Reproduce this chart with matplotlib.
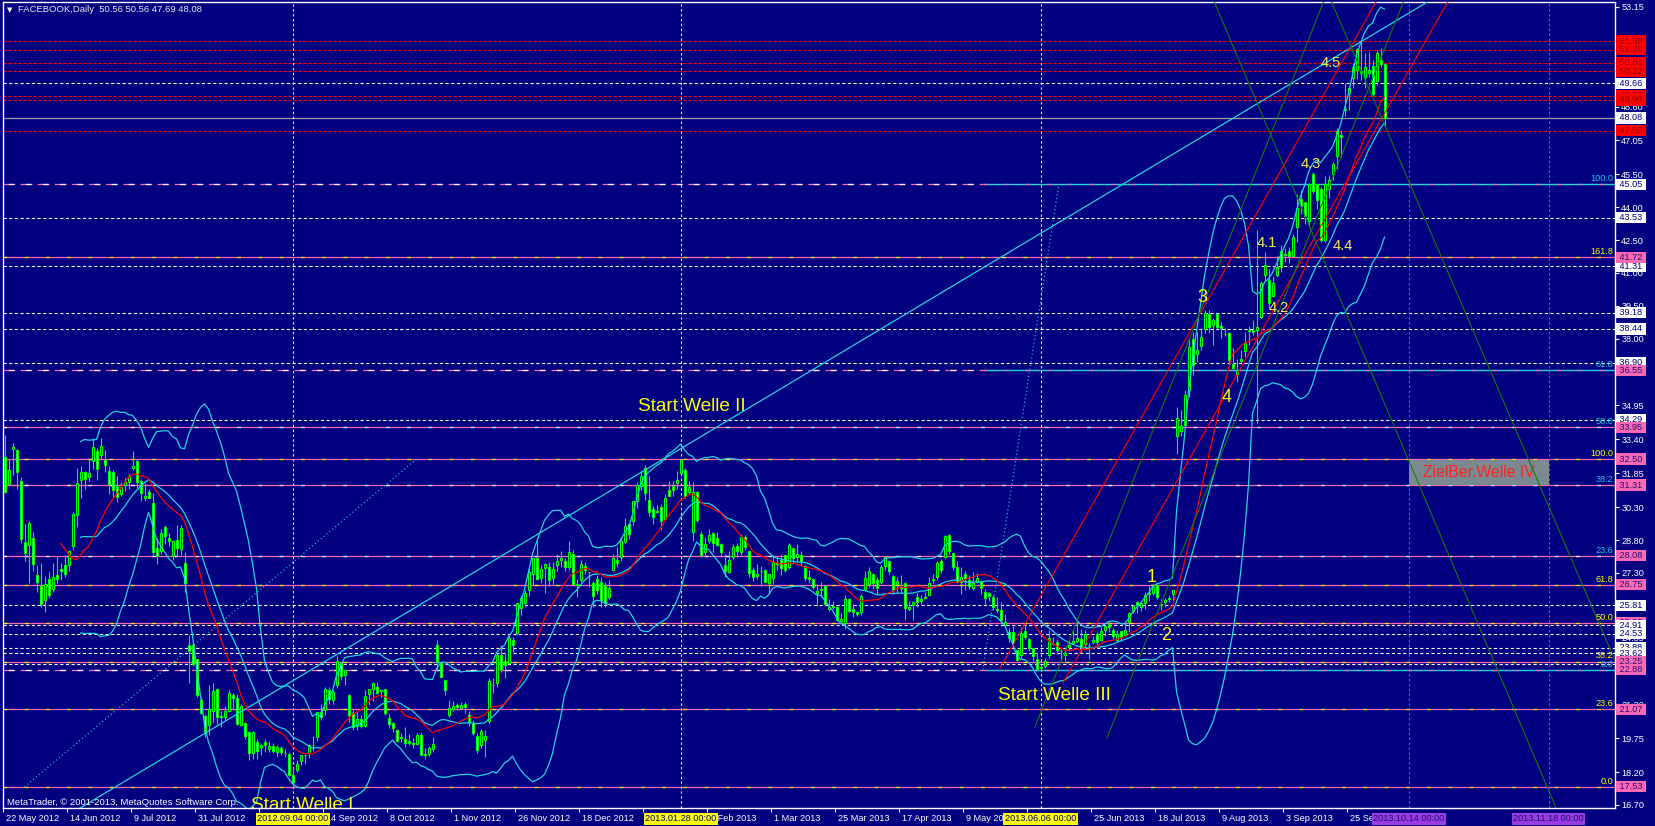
import numpy as np
import pandas as pd
import matplotlib
matplotlib.use("Agg")
import matplotlib.pyplot as plt
from matplotlib.transforms import ScaledTranslation
from matplotlib.patches import Rectangle

plt.rcParams['font.family'] = ['Liberation Sans', 'DejaVu Sans']

# ---------------- DATA (daily bars, 22 May 2012 .. 8 Oct 2013) ----------------
open_ = [
 32.61, 31.37, 32.95, 32.90, 31.48, 28.70, 28.55,
 28.89, 27.20, 26.70, 26.07, 27.00, 26.55, 27.18, 27.48, 27.66, 27.65, 28.51, 29.96, 31.54, 31.92, 31.67, 32.41, 32.86, 32.69, 32.46, 31.96, 31.92,
 31.25, 30.91, 31.32, 31.44, 32.10, 32.43, 31.48, 30.70, 31.00, 30.50, 28.42, 28.31, 29.41, 28.91, 28.07, 28.82, 28.38, 27.75, 23.99, 24.00, 23.37,
 21.50, 20.77, 20.36, 21.00, 22.00, 20.75, 20.70, 21.00, 21.73, 21.60, 20.36, 20.44, 20.01, 19.05, 19.58, 19.36, 19.59, 19.26, 19.39, 19.10, 19.30, 19.07, 19.02,
 18.08, 18.30, 18.72, 18.96, 19.07, 19.42, 19.82, 20.95, 21.05, 21.97, 21.51, 22.19, 23.20, 22.65, 21.70, 20.90, 20.30, 20.62, 20.32,
 21.76, 21.99, 22.08, 21.92, 21.98, 20.65, 20.46, 20.13, 19.82, 19.69, 19.64, 19.52, 19.47, 19.91, 19.04, 19.04, 19.25, 24.00, 23.19, 22.42, 20.82,
 21.08, 21.26, 21.11, 21.30, 20.82, 20.44, 19.84, 19.42, 19.66, 20.54, 22.18, 22.26, 23.53, 23.26, 23.20, 24.22, 24.54, 25.69, 25.94, 26.50, 27.26,
 28.00, 27.08, 27.51, 27.55, 27.07, 27.64, 27.90, 27.85, 27.59, 28.18, 26.77, 26.96, 27.60, 27.35, 26.85, 27.03, 26.89, 26.71, 26.20,
 27.44, 27.88, 28.01, 28.69, 29.51, 29.67, 30.60, 31.28, 32.08, 30.64, 30.21, 30.08, 30.31, 29.75, 31.10, 31.27, 31.41, 31.88, 32.00, 30.98, 29.15,
 31.01, 29.06, 28.26, 28.74, 29.11, 28.89, 28.61, 27.67, 27.36, 28.02, 28.52, 28.23, 28.92, 28.28, 27.43, 27.16, 27.38, 27.42, 26.84,
 27.05, 27.76, 27.88, 28.10, 27.57, 28.43, 28.01, 28.10, 27.62, 27.10, 27.03, 26.37, 26.53, 26.68, 25.66, 25.80, 25.75, 25.08, 25.00, 26.09,
 25.63, 25.50, 25.50, 26.50, 26.81, 27.26, 26.96, 26.87, 27.62, 27.85, 27.16, 26.81, 26.65, 26.82, 25.67, 25.81, 26.18, 26.02, 26.18, 26.28, 27.00, 27.13,
 27.85, 28.01, 29.01, 28.20, 27.55, 26.87, 27.26, 26.97, 26.60, 26.90, 26.88, 26.44, 26.37, 26.22, 25.59, 25.60, 24.93, 24.58, 24.60, 23.79, 23.53, 24.63,
 24.27, 23.88, 23.35, 22.99, 23.03, 23.53, 24.03, 24.16, 23.72, 23.56, 23.91, 24.09, 24.20, 24.28, 24.06, 23.95, 24.14, 24.51, 24.24, 24.68,
 24.97, 24.70, 24.22, 24.65, 24.47, 25.07, 25.58, 25.96, 25.74, 25.93, 26.39, 26.37, 26.75, 25.82, 25.99, 26.10, 26.32, 33.54, 33.77, 34.07, 35.65, 37.96,
 37.30, 37.66, 38.43, 39.11, 38.61, 39.13, 38.59, 38.20, 38.24, 36.83, 36.36, 36.97, 37.43, 38.35, 38.38, 38.37, 39.00, 40.90, 40.68, 39.96, 40.89, 42.02,
 41.84, 42.01, 41.79, 43.09, 44.36, 44.24, 43.39, 45.53, 45.04, 44.85, 42.50, 44.82, 45.51, 46.32, 47.28, 48.50, 49.23, 49.89, 50.29, 50.14,
 49.97, 50.13, 50.47, 49.77, 50.73, 50.56,
]
high_ = [
 33.59, 32.50, 33.21, 32.95, 31.69, 29.55, 29.67,
 29.15, 27.65, 27.76, 27.17, 27.35, 27.76, 28.07, 27.77, 28.10, 28.32, 30.10, 32.08, 32.18, 31.93, 32.50, 33.45, 33.02, 33.44, 32.90, 32.19, 31.99,
 31.73, 31.44, 31.63, 31.83, 32.88, 32.48, 31.57, 31.40, 31.11, 30.95, 28.88, 29.29, 29.50, 29.13, 28.80, 29.47, 29.49, 28.23, 24.48, 24.04, 23.37,
 21.58, 20.84, 22.16, 22.27, 22.00, 20.97, 21.20, 21.95, 21.82, 21.75, 21.30, 20.48, 20.08, 20.06, 19.69, 19.50, 19.73, 19.64, 19.55, 19.43, 19.40, 19.27, 19.10,
 18.39, 18.73, 19.00, 19.00, 19.45, 19.84, 20.93, 21.30, 22.10, 22.08, 21.95, 23.50, 23.22, 22.90, 21.75, 21.04, 20.96, 20.80, 21.95,
 22.00, 22.32, 22.33, 22.00, 22.00, 20.87, 20.50, 20.15, 19.98, 20.25, 19.93, 19.78, 19.99, 20.03, 19.30, 19.40, 19.80, 24.25, 23.29, 22.42, 21.50,
 21.44, 21.36, 21.41, 21.38, 20.97, 20.57, 20.00, 20.19, 20.13, 22.50, 22.50, 23.65, 24.02, 23.58, 24.46, 24.37, 25.97, 26.28, 26.53, 27.55, 28.00,
 28.88, 27.66, 27.75, 27.78, 27.80, 28.14, 28.31, 27.99, 28.75, 28.33, 27.00, 27.91, 27.80, 27.36, 26.94, 27.20, 27.09, 26.90, 26.99,
 28.18, 28.47, 28.93, 29.79, 29.60, 30.60, 31.45, 31.96, 32.21, 31.71, 30.35, 30.42, 30.44, 30.89, 31.50, 31.49, 31.93, 32.51, 32.07, 31.49, 31.47,
 31.02, 29.20, 28.96, 29.29, 29.15, 29.17, 28.68, 28.16, 28.32, 28.63, 28.65, 29.08, 29.05, 28.31, 27.59, 27.71, 27.60, 27.48, 27.30,
 28.12, 28.06, 28.18, 28.13, 28.68, 28.47, 28.64, 28.32, 27.65, 27.43, 27.06, 26.79, 26.90, 26.69, 26.11, 26.01, 25.80, 25.48, 26.28, 26.17,
 25.89, 25.57, 26.35, 27.39, 27.58, 27.27, 27.11, 27.65, 28.07, 27.88, 27.22, 27.11, 27.20, 26.82, 26.00, 26.00, 26.38, 26.27, 26.44, 27.10, 27.27, 27.85,
 27.92, 29.02, 29.07, 28.24, 27.85, 27.55, 27.40, 27.20, 27.33, 27.28, 26.96, 26.57, 26.42, 26.30, 26.20, 25.99, 25.40, 24.76, 24.89, 23.81, 24.84, 24.95,
 24.32, 23.89, 23.70, 23.09, 23.41, 24.69, 24.35, 24.26, 23.83, 23.89, 24.25, 24.69, 25.19, 24.74, 24.70, 24.11, 24.43, 24.60, 24.84, 24.98,
 25.06, 24.77, 24.71, 24.66, 25.04, 25.49, 25.83, 26.00, 25.93, 26.43, 26.75, 26.78, 26.77, 26.11, 26.13, 26.30, 26.53, 34.88, 34.73, 35.66, 37.96, 38.31,
 38.29, 38.49, 39.32, 39.29, 38.94, 39.19, 38.74, 38.50, 38.32, 37.55, 37.07, 37.49, 38.28, 38.58, 38.85, 42.97, 40.63, 41.94, 41.20, 40.85, 41.78, 42.26,
 42.16, 42.17, 42.76, 44.61, 44.79, 44.26, 45.09, 45.62, 45.08, 44.94, 45.44, 45.47, 46.05, 47.60, 47.55, 49.66, 49.54, 50.60, 51.28, 51.60,
 51.03, 51.10, 50.72, 51.16, 51.29, 50.56,
]
low_ = [
 30.94, 31.36, 31.77, 31.11, 28.65, 27.86, 26.83,
 27.39, 26.44, 25.75, 25.52, 26.15, 26.44, 26.84, 26.96, 27.10, 27.38, 28.35, 29.41, 30.70, 31.15, 31.51, 32.06, 31.55, 32.50, 31.90, 30.90, 30.76,
 30.55, 30.80, 31.02, 31.15, 31.99, 31.16, 30.57, 30.60, 30.80, 28.10, 27.71, 28.15, 28.63, 28.51, 27.90, 28.05, 28.10, 26.44, 22.28, 23.03, 21.61,
 20.84, 19.82, 19.90, 20.50, 20.40, 20.25, 20.60, 20.98, 21.10, 20.33, 20.30, 19.69, 18.75, 18.80, 18.81, 19.00, 19.11, 19.14, 19.06, 18.91, 19.00, 18.90, 18.03,
 17.53, 18.20, 18.51, 18.56, 18.86, 19.16, 19.63, 20.59, 20.83, 21.30, 21.33, 22.05, 22.39, 22.16, 20.50, 20.10, 20.10, 20.21, 20.24,
 21.27, 21.45, 21.76, 21.63, 20.80, 20.23, 20.01, 19.59, 19.56, 19.36, 19.42, 19.28, 19.45, 18.97, 18.80, 18.93, 19.10, 22.80, 22.55, 21.70, 20.73,
 21.01, 21.03, 21.09, 20.91, 20.29, 19.88, 19.06, 19.30, 18.87, 20.42, 21.82, 22.07, 22.75, 22.50, 23.13, 23.70, 24.50, 25.37, 25.73, 26.24, 26.76,
 26.98, 26.82, 26.36, 26.70, 26.76, 27.37, 27.57, 27.38, 27.43, 26.76, 26.18, 26.90, 27.25, 26.67, 25.75, 26.32, 25.75, 25.75, 26.11,
 27.42, 27.59, 27.83, 28.65, 28.86, 29.49, 30.28, 31.10, 30.62, 29.88, 29.53, 30.03, 29.27, 29.74, 30.80, 30.81, 31.13, 31.81, 30.71, 30.88, 28.74,
 29.63, 28.01, 28.04, 28.66, 28.27, 28.51, 28.04, 27.10, 27.31, 27.94, 28.01, 28.12, 28.33, 27.13, 26.91, 27.03, 26.68, 26.88, 26.34,
 26.81, 27.44, 27.21, 27.35, 27.47, 27.73, 27.83, 27.60, 26.92, 26.83, 26.56, 25.78, 26.21, 25.78, 25.56, 25.63, 25.08, 25.03, 24.72, 25.52,
 25.28, 25.32, 25.38, 26.47, 26.65, 26.54, 26.34, 26.80, 27.43, 27.25, 26.40, 26.40, 26.39, 25.15, 25.54, 25.15, 25.75, 25.86, 26.12, 26.27, 26.85, 27.01,
 27.31, 27.98, 28.15, 27.44, 26.85, 26.35, 26.52, 26.58, 26.53, 26.83, 26.35, 25.88, 26.02, 25.60, 25.52, 25.04, 24.86, 24.15, 24.08, 23.26, 23.43, 24.27,
 23.71, 23.28, 22.90, 22.88, 22.94, 23.39, 24.00, 23.58, 23.26, 23.26, 23.75, 24.08, 24.10, 23.65, 23.85, 23.38, 24.04, 23.99, 24.21, 24.42,
 24.62, 24.30, 24.15, 24.20, 24.42, 24.61, 25.47, 25.45, 25.55, 25.65, 26.01, 26.30, 26.12, 25.60, 25.72, 25.97, 26.05, 32.75, 33.56, 34.01, 35.32, 36.33,
 36.92, 37.50, 38.25, 38.26, 37.70, 38.43, 38.01, 38.10, 36.77, 36.62, 36.02, 36.90, 37.14, 37.69, 38.15, 34.15, 38.93, 40.62, 39.42, 39.88, 40.80, 41.06,
 41.51, 41.44, 41.77, 42.40, 43.70, 43.23, 43.11, 44.65, 43.93, 42.43, 42.43, 44.40, 45.23, 45.74, 46.29, 48.16, 48.46, 49.44, 49.86, 49.80,
 49.45, 49.95, 49.06, 49.57, 50.40, 47.69,
]
close_ = [
 31.00, 32.00, 33.03, 31.91, 28.84, 28.19, 29.60,
 27.72, 26.90, 25.87, 26.81, 26.31, 27.10, 27.01, 27.40, 27.27, 28.29, 30.01, 31.41, 31.91, 31.60, 31.84, 33.05, 32.06, 33.10, 32.23, 31.36, 31.10,
 30.77, 31.20, 31.47, 31.73, 32.17, 31.47, 30.97, 30.81, 30.72, 28.25, 28.09, 29.11, 29.00, 28.76, 28.75, 28.45, 29.34, 26.85, 23.71, 23.15, 21.71,
 20.88, 20.04, 21.09, 21.92, 20.72, 20.72, 21.01, 21.81, 21.60, 20.38, 21.20, 19.87, 19.05, 20.01, 19.16, 19.44, 19.44, 19.41, 19.15, 19.34, 19.10, 19.09, 18.06,
 17.73, 18.58, 18.96, 18.98, 19.43, 19.43, 20.93, 20.71, 22.00, 21.52, 21.87, 23.29, 22.59, 22.86, 20.79, 20.28, 20.62, 20.32, 21.66,
 21.99, 22.27, 21.83, 21.95, 20.91, 20.40, 20.23, 19.64, 19.75, 19.52, 19.52, 19.48, 19.88, 18.98, 19.00, 19.32, 19.50, 23.23, 22.56, 21.94, 21.11,
 21.21, 21.18, 21.25, 21.17, 20.47, 19.99, 19.21, 20.07, 19.86, 22.36, 22.17, 23.56, 22.92, 23.10, 24.32, 24.00, 25.94, 26.15, 26.36, 27.32, 28.00,
 27.04, 27.46, 27.71, 26.97, 27.49, 27.84, 27.98, 27.58, 28.24, 26.81, 26.75, 27.71, 27.41, 27.36, 26.26, 26.51, 26.05, 25.91, 26.62,
 28.00, 27.77, 28.76, 29.42, 29.06, 30.59, 31.30, 31.72, 30.95, 30.10, 29.85, 30.14, 29.66, 30.73, 30.82, 31.08, 31.54, 32.47, 30.79, 31.24, 30.98,
 29.73, 28.11, 28.64, 29.05, 28.65, 28.55, 28.26, 27.37, 27.91, 28.50, 28.32, 28.93, 28.46, 27.28, 27.13, 27.27, 27.39, 26.87, 27.25,
 27.78, 27.72, 27.52, 27.45, 28.58, 27.96, 28.14, 27.83, 27.08, 27.04, 26.65, 26.49, 26.55, 25.86, 25.74, 25.73, 25.13, 25.21, 26.09, 25.58,
 25.53, 25.42, 26.25, 27.07, 27.39, 26.85, 26.59, 27.57, 28.02, 27.40, 26.52, 26.92, 26.63, 25.69, 25.73, 25.97, 25.98, 26.11, 26.14, 26.85, 26.98, 27.77,
 27.43, 28.97, 28.31, 27.57, 26.89, 27.12, 27.04, 26.68, 26.82, 27.07, 26.60, 26.13, 26.25, 25.76, 25.66, 25.16, 25.06, 24.31, 24.10, 23.32, 24.55, 24.35,
 23.85, 23.52, 22.90, 22.97, 23.29, 24.33, 24.03, 23.77, 23.73, 23.63, 24.02, 24.21, 24.31, 23.90, 24.53, 23.94, 24.25, 24.16, 24.66, 24.88,
 24.81, 24.41, 24.52, 24.37, 24.71, 25.48, 25.80, 25.81, 25.91, 26.28, 26.32, 26.65, 26.18, 25.88, 26.05, 26.13, 26.51, 34.36, 34.01, 35.43, 37.63, 36.80,
 37.49, 38.05, 39.19, 38.55, 38.87, 38.54, 38.50, 38.22, 37.02, 36.65, 36.56, 37.08, 37.81, 38.41, 38.32, 38.55, 40.55, 41.34, 39.64, 40.55, 41.28, 41.29,
 41.87, 41.78, 42.66, 43.95, 44.04, 43.60, 45.04, 44.75, 44.31, 42.51, 45.07, 45.23, 45.98, 47.49, 47.19, 48.45, 49.46, 50.39, 51.24, 50.23,
 50.42, 50.28, 49.18, 51.04, 50.52, 48.08,
]

# x-axis date labels (every 16 bars); labels hidden under the time boxes are left empty
date_tick_bars = [0, 16, 32, 48, 64, 80, 96, 112, 128, 144, 160, 176, 192, 208, 224, 240, 256, 272, 288, 304, 320, 336]
date_tick_labels = ['22 May 2012', '14 Jun 2012', '9 Jul 2012', '31 Jul 2012', '', '14 Sep 2012',
                    '8 Oct 2012', '1 Nov 2012', '26 Nov 2012', '18 Dec 2012', '', '6 Feb 2013',
                    '1 Mar 2013', '25 Mar 2013', '17 Apr 2013', '9 May 2013', '', '25 Jun 2013',
                    '18 Jul 2013', '9 Aug 2013', '3 Sep 2013', '25 Sep 2013']

# price axis labels
price_ticks = [16.70, 18.20, 19.75, 21.30, 22.80, 24.35, 25.85, 27.30, 28.80, 30.30, 31.85, 33.40, 34.95,
               36.45, 38.00, 39.50, 41.00, 42.50, 44.00, 45.50, 47.05, 48.60, 50.10, 51.60, 53.15]

# vertical time lines
vline_yellow_bars = [72, 169, 259]
vline_yellow_labels = ['2012.09.04 00:00', '2013.01.28 00:00', '2013.06.06 00:00']
vline_purple_bars = [351, 386]
vline_purple_labels = ['2013.10.14 00:00', '2013.11.18 00:00']

# horizontal lines
red_dash_levels = [51.59, 51.20, 50.61, 50.22, 49.10, 48.90, 47.50]
white_dash_levels = [49.66, 43.53, 41.31, 39.18, 38.44, 36.90, 34.29, 25.81, 24.91, 24.53, 23.88, 23.62, 23.15]
bid_level = 48.08

fib_y_ratios = ['0.0', '23.6', '38.2', '50.0', '61.8', '100.0', '161.8']
fib_y_prices = [17.53, 21.07, 23.25, 25.02, 26.75, 32.50, 41.72]
fib_y_line_x = [5, 103]
fib_y_line_p = [17.53, 32.50]

fib_c_ratios = ['0.0', '23.6', '38.2', '50.0', '61.8', '100.0']
fib_c_prices = [22.88, 28.08, 31.31, 33.95, 36.55, 45.05]
fib_c_cyan = [22.88, 36.55, 45.05]
fib_c_line_x = [244.6, 263.6]
fib_c_line_p = [22.88, 45.05]

# price label boxes on the right
box_white = [49.66, 48.08, 45.05, 43.53, 41.31, 39.18, 38.44, 36.90, 34.29, 25.81, 24.91, 24.53, 23.88, 23.62, 23.15]
box_pink = [41.72, 36.55, 33.95, 32.50, 31.31, 28.08, 26.75, 23.25, 22.88, 21.07, 17.53]
box_pink_under = [25.02]
box_red = [51.59, 51.20, 50.61, 50.22, 49.10, 48.90, 47.50]

# trend lines (bar index, price)
cyan_trend_x = [20, 350]
cyan_trend_p = [16.68, 52.75]
red_lines = [([248.9, 344.8], [22.95, 54.0]), ([264.6, 362.7], [22.27, 54.0])]
green_lines = [([301.0, 389.2], [54.0, 16.0]), ([330.3, 405.0], [54.0, 22.3]),
               ([257.6, 331.1], [20.26, 54.0]), ([275.6, 351.1], [19.76, 54.0])]

# target zone
zone_x = [351, 386]
zone_p = [31.31, 32.44]

# wave annotations: text, bar, price, size
wave_text = ['Start Welle II', 'Start Welle III', 'Start Welle I', '1', '2', '3', '4',
             '4.1', '4.2', '4.3', '4.4', '4.5']
wave_bar = [171.8, 262.6, 74.5, 286.9, 290.4, 299.4, 305.6, 315.6, 318.6, 326.6, 334.6, 331.6]
wave_price = [34.92, 21.72, 16.69, 27.11, 24.46, 39.86, 35.29, 42.37, 39.40, 45.98, 42.23, 50.59]
wave_size = [13.7, 13.7, 13.7, 13, 13, 13, 13, 10.5, 10.5, 10.5, 10.5, 10.5]

# ---------------- STYLE ----------------
NAVY = '#000080'
LIME = '#00FF00'
PINK = '#FF69B4'
CYAN = '#22D3E0'
YEL = '#FFFF00'
PURP = '#9933FF'

W, H = 1655, 826
DPI = 100
fig = plt.figure(figsize=(W / DPI, H / DPI), dpi=DPI, facecolor=NAVY)
ax = fig.add_axes([3 / W, 18 / H, 1612 / W, 805.7 / H])
ax.set_facecolor(NAVY)
XMIN, XMAX = -0.375, 402.625
ax.set_xlim(XMIN, XMAX)
ax.set_ylim(16.56, 53.36)
for s in ax.spines.values():
    s.set_color('white')
    s.set_linewidth(1.0)

# horizontal lines
for lv in white_dash_levels:
    ax.axhline(lv, color='white', lw=0.8, dashes=(2.9, 2.2), zorder=2)
for lv in red_dash_levels:
    ax.axhline(lv, color='#FF0000', lw=0.8, dashes=(2.9, 1.6), zorder=2)
ax.axhline(bid_level, color='#A0A0A0', lw=0.9, zorder=2)
for lv in fib_y_prices:
    ax.axhline(lv, color=PINK, lw=0.9, zorder=2)
    ax.axhline(lv, color=YEL, lw=0.9, dashes=(3, 14), zorder=2.1)
for lv in fib_c_prices:
    if lv in fib_c_cyan:
        ax.hlines(lv, XMIN, fib_c_line_x[0], color=PINK, lw=0.9, linestyles=(0, (9.4, 4.3)), zorder=2)
        ax.hlines(lv, XMIN, fib_c_line_x[0], color='white', lw=0.9, linestyles=(9.4, (4.3, 9.4)), zorder=2)
        ax.hlines(lv, fib_c_line_x[0], XMAX, color=CYAN, lw=1.0, zorder=2)
        ax.hlines(lv, fib_c_line_x[0], XMAX, color=PINK, lw=0.9, linestyles=(0, (3, 14)), zorder=2.1)
    else:
        ax.axhline(lv, color=PINK, lw=0.9, zorder=2)
        ax.axhline(lv, color='white', lw=0.9, dashes=(3, 14), zorder=2.1)

# vertical lines
for b in vline_yellow_bars:
    ax.axvline(b, color=YEL, lw=0.8, dashes=(2.2, 2.2), zorder=2)
for b in vline_purple_bars:
    ax.axvline(b, color=PURP, lw=0.8, dashes=(2.2, 2.2), zorder=2)

# target zone rectangle
ax.add_patch(Rectangle((zone_x[0], zone_p[0]), zone_x[1] - zone_x[0], zone_p[1] - zone_p[0],
                       facecolor='#7A8A90', edgecolor='none', zorder=2.6))
ax.text((zone_x[0] + zone_x[1]) / 2, (zone_p[0] + zone_p[1]) / 2, 'ZielBer.Welle IV', color='#FF2020',
        fontsize=11.3, ha='center', va='center', zorder=2.7)

# candles
o = np.array(open_); h = np.array(high_); l = np.array(low_); c = np.array(close_)
n = min(len(o), len(h), len(l), len(c))
o, h, l, c = o[:n], h[:n], l[:n], c[:n]
x = np.arange(n)
bull = c >= o
ax.vlines(x, l, h, color=LIME, lw=0.8, zorder=3)
ax.bar(x, np.maximum(np.abs(c - o), 0.01), bottom=np.minimum(o, c), width=0.5,
       color=np.where(bull, NAVY, 'white'), edgecolor=LIME, linewidth=0.8, zorder=3.5)

# indicators (Bollinger 20,2 and moving average 15 from the closes)
cs = pd.Series(c)
mid = cs.rolling(20).mean()
sd = cs.rolling(20).std(ddof=0)
ax.plot(x, mid, color=CYAN, lw=0.9, zorder=4)
ax.plot(x, mid + 2 * sd, color=CYAN, lw=0.9, zorder=4)
ax.plot(x, mid - 2 * sd, color=CYAN, lw=0.9, zorder=4)
ax.plot(x, cs.rolling(15).mean(), color='#FF0000', lw=0.9, zorder=4.1)

# trend lines
ax.axline((cyan_trend_x[0], cyan_trend_p[0]), (cyan_trend_x[1], cyan_trend_p[1]), color=CYAN, lw=0.9, zorder=4)
ax.plot(fib_y_line_x, fib_y_line_p, color=CYAN, lw=0.9, dashes=(0.8, 2.2), zorder=4)
ax.plot(fib_c_line_x, fib_c_line_p, color=CYAN, lw=0.9, dashes=(0.8, 2.2), zorder=4)
for xs, ps in red_lines:
    ax.plot(xs, ps, color='#FF0000', lw=0.8, zorder=4.2)
for xs, ps in green_lines:
    ax.plot(xs, ps, color='#117A11', lw=0.8, zorder=4.2)

# wave labels
for t, b, p, s in zip(wave_text, wave_bar, wave_price, wave_size):
    col = YEL if s > 11 else '#F2F24A'
    ax.text(b, p, t, color=col, fontsize=s, ha='center', va='center', zorder=6, clip_on=True)

# fib level labels near right edge
ytr = ax.get_yaxis_transform()
for r, p in zip(fib_y_ratios, fib_y_prices):
    ax.text(0.9988, p + 0.05, r, transform=ytr, color=YEL, fontsize=6.6, ha='right', va='bottom', zorder=6)
for r, p in zip(fib_c_ratios, fib_c_prices):
    ax.text(0.9988, p + 0.05, r, transform=ytr, color='#20C8D8', fontsize=6.6, ha='right', va='bottom', zorder=6)

# y axis
ax.yaxis.tick_right()
ax.set_yticks(price_ticks)
ax.set_yticklabels(['%.2f' % v for v in price_ticks])
ax.tick_params(axis='y', direction='out', length=3, width=0.8, colors='white', labelsize=6.6, pad=1.5)

# x axis
ax.set_xticks([b + XMIN for b in date_tick_bars])
ax.set_xticklabels(date_tick_labels)
ax.tick_params(axis='x', direction='out', length=3, width=0.8, colors='white', labelsize=6.6, pad=1.5)
off = ScaledTranslation(0.035, 0, fig.dpi_scale_trans)
for lab in ax.get_xticklabels():
    lab.set_ha('left')
    lab.set_transform(lab.get_transform() + off)

# price boxes
def pbox(v, fc, tc, z):
    ax.text(1.0012, v, ' %.2f ' % v, transform=ytr, ha='left', va='center', fontsize=6.6, color=tc,
            bbox=dict(boxstyle='square,pad=0.12', fc=fc, ec='none'), clip_on=False, zorder=z)

for v in box_pink_under:
    pbox(v, PINK, '#1E0A78', 9)
for v in box_white:
    pbox(v, 'white', NAVY, 10)
for v in box_pink:
    pbox(v, PINK, '#1E0A78', 11)
for v in box_red:
    pbox(v, '#FF0000', '#8B0000', 12)

# time boxes
xtr = ax.get_xaxis_transform()
for b, t in zip(vline_yellow_bars, vline_yellow_labels):
    ax.text(b, -0.0132, t, transform=xtr, ha='center', va='center', fontsize=6.6, color=NAVY,
            bbox=dict(boxstyle='square,pad=0.15', fc=YEL, ec='none'), clip_on=False, zorder=20)
for b, t in zip(vline_purple_bars, vline_purple_labels):
    ax.text(b, -0.0132, t, transform=xtr, ha='center', va='center', fontsize=6.6, color='#1B0F72',
            bbox=dict(boxstyle='square,pad=0.15', fc='#9B3BE8', ec='none'), clip_on=False, zorder=20)

# header and footer texts
ax.text(0.0025, 0.9905, '\u25BC', transform=ax.transAxes, color='white', fontsize=5, ha='left', va='center',
        family=['DejaVu Sans'], zorder=20)
ax.text(0.0093, 0.9905, 'FACEBOOK,Daily  50.56 50.56 47.69 48.08', transform=ax.transAxes, color='#E8E8E8',
        fontsize=6.8, ha='left', va='center', zorder=20)
ax.text(0.0025, 0.0074, 'MetaTrader, \u00A9 2001-2013, MetaQuotes Software Corp.', transform=ax.transAxes,
        color='white', fontsize=6.8, ha='left', va='center', zorder=20)

fig.savefig('out.png', dpi=DPI, facecolor=NAVY)
